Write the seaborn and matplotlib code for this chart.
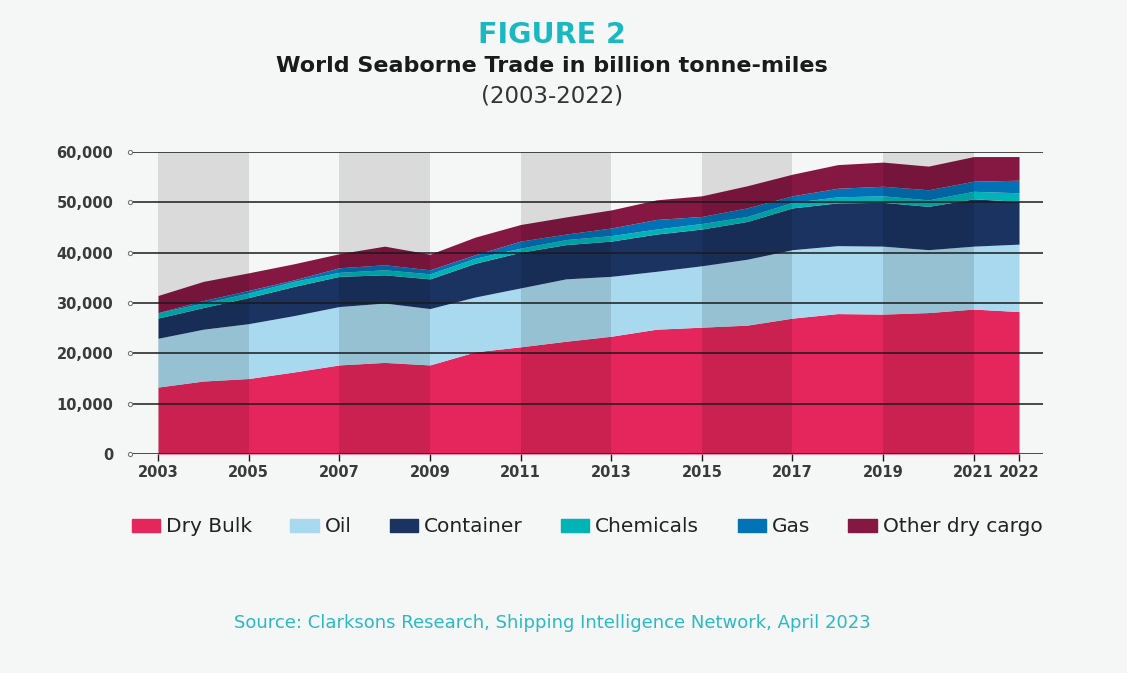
import matplotlib
matplotlib.use("Agg")
import matplotlib.pyplot as plt
import seaborn as sns
import numpy as np

years = list(range(2003, 2023))
dry_bulk = [13300, 14500, 15000, 16300, 17700, 18200, 17700, 20300, 21300, 22400,
            23400, 24800, 25200, 25600, 27000, 27900, 27800, 28100, 28800, 28300]
oil = [9700, 10300, 10900, 11200, 11600, 11800, 11200, 10900, 11700, 12400,
       11900, 11500, 12200, 13100, 13600, 13500, 13500, 12500, 12500, 13400]
container = [4000, 4300, 5200, 5800, 6000, 5600, 5900, 6700, 7100, 6800,
             7000, 7400, 7300, 7500, 8300, 8500, 8700, 8600, 9400, 8500]
chemicals = [1100, 900, 900, 1000, 800, 1000, 1000, 1000, 800, 1000,
             1100, 1000, 1100, 1000, 1100, 1200, 1300, 1300, 1500, 1700]
gas = [0, 500, 500, 300, 900, 1000, 800, 700, 1400, 1100,
       1500, 1900, 1400, 1700, 1300, 1700, 1900, 2000, 2000, 2500]
other_dry = [3400, 3800, 3500, 3200, 2800, 3700, 3100, 3500, 3300, 3400,
             3600, 3900, 4100, 4400, 4300, 4700, 4800, 4700, 4900, 4700]
series_names = ["Dry Bulk", "Oil", "Container", "Chemicals", "Gas", "Other dry cargo"]
colors = ["#e5265c", "#a9d9ee", "#1b3360", "#00b3b7", "#0072b5", "#851843"]
x_ticks = [2003, 2005, 2007, 2009, 2011, 2013, 2015, 2017, 2019, 2021, 2022]
y_ticks = [0, 10000, 20000, 30000, 40000, 50000, 60000]
bands = [(2003, 2005), (2007, 2009), (2011, 2013), (2015, 2017), (2019, 2021)]

sns.set_theme(style="white")
plt.rcParams["font.family"] = ["DejaVu Sans"]
bg = "#f5f6f6"
fig = plt.figure(figsize=(11.27, 6.73), dpi=100, facecolor=bg)
ax = fig.add_axes([0.1153, 0.3254, 0.8102, 0.4487])
ax.set_facecolor(bg)

pal = sns.color_palette(colors)
ax.stackplot(years, dry_bulk, oil, container, chemicals, gas, other_dry,
             colors=pal, labels=series_names, linewidth=0, zorder=2)

for a, b in bands:
    ax.axvspan(a, b, ymin=0, ymax=1, color="black", alpha=0.11, lw=0, zorder=3)

ax.set_ylim(0, 60000)
ax.set_xlim(2002.38, 2022.53)
ax.set_yticks(y_ticks)
ax.set_yticklabels([f"{v:,}" for v in y_ticks], fontsize=10.5, fontweight="bold",
                   color="#3a3a3a")
ax.set_xticks(x_ticks)
ax.set_xticklabels([str(v) for v in x_ticks], fontsize=10.5, fontweight="bold",
                   color="#3a3a3a")
for v in y_ticks:
    ax.axhline(v, color="#1a1a1a", lw=1.1, zorder=4)
ax.plot([ax.get_xlim()[0]] * len(y_ticks), y_ticks, "o", ms=3, mfc="white",
        mec="#777777", mew=0.8, zorder=5, clip_on=False)
ax.tick_params(axis="x", which="both", bottom=True, length=5, width=1, color="#1a1a1a", pad=3)
ax.tick_params(axis="y", length=0, pad=12)
sns.despine(ax=ax, left=True, bottom=True, top=True, right=True)
ax.grid(False)

fig.text(0.49, 0.948, "FIGURE 2", ha="center", va="center", fontsize=20.5,
         fontweight="bold", color="#1ab8c0")
fig.text(0.49, 0.902, "World Seaborne Trade in billion tonne-miles", ha="center",
         va="center", fontsize=16, fontweight="bold", color="#1a1a1a")
fig.text(0.49, 0.858, "(2003-2022)", ha="center", va="center", fontsize=16.5,
         color="#333333")

handles = [plt.Rectangle((0, 0), 1, 1, color=c) for c in colors]
fig.legend(handles, series_names, loc="center", bbox_to_anchor=(0.521, 0.217),
           ncol=6, frameon=False, fontsize=14.5, handlelength=1.4, handleheight=0.65,
           handletextpad=0.3, columnspacing=1.9, labelcolor="#222222")

fig.text(0.49, 0.075, "Source: Clarksons Research, Shipping Intelligence Network, April 2023",
         ha="center", va="center", fontsize=13, color="#2bb9c4")

fig.savefig("out.png", dpi=100, facecolor=bg)
